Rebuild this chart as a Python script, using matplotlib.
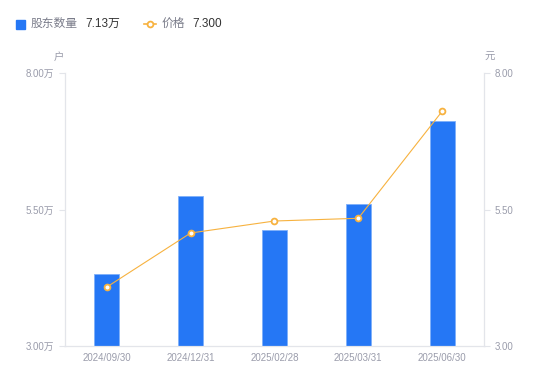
import matplotlib
matplotlib.use("Agg")
import matplotlib.pyplot as plt

plt.rcParams["font.family"] = ["Liberation Sans", "Noto Sans CJK SC", "DejaVu Sans"]

dates = ["2024/09/30", "2024/12/31", "2025/02/28", "2025/03/31", "2025/06/30"]
holders = [4.32, 5.75, 5.12, 5.60, 7.13]   # 万户
price = [4.08, 5.07, 5.29, 5.34, 7.30]     # 元
yticks = [3.0, 5.5, 8.0]

BLUE, ORANGE, GRID, LABEL = "#2577f5", "#f7b23f", "#e3e5ea", "#9a9cab"

fig = plt.figure(figsize=(5.5, 3.81), dpi=100)
ax = fig.add_axes([0.118, 0.092, 0.762, 0.716])
ax2 = ax.twinx()

x = range(len(dates))
ax.bar(x, [h - 3.0 for h in holders], bottom=3.0, width=0.3, color=BLUE,
       edgecolor="#7fb0fa", linewidth=0.6, zorder=2)
ax2.plot(x, price, "-o", color=ORANGE, lw=0.8, ms=4.2, mfc="white",
         mec=ORANGE, mew=1.3, zorder=3)

ax.set_xlim(-0.5, len(dates) - 0.5)
ax.set_ylim(3.0, 8.0)
ax2.set_ylim(3.0, 8.0)
ax.set_xticks(list(x))
ax.set_xticklabels(dates)
ax.set_yticks(yticks)
ax.set_yticklabels([f"{v:.2f}万" for v in yticks])
ax2.set_yticks(yticks)
ax2.set_yticklabels([f"{v:.2f}" for v in yticks])

for a in (ax, ax2):
    for s in a.spines.values():
        s.set_color(GRID)
    a.spines["top"].set_visible(False)
    a.tick_params(colors=GRID, labelcolor=LABEL, labelsize=7, length=4, width=0.8)
ax.tick_params(axis="x", length=0, pad=5)

fig.text(59 / 550, 1 - 57 / 381, "户", color=LABEL, fontsize=7.5, ha="center", va="center")
fig.text(490 / 550, 1 - 57 / 381, "元", color=LABEL, fontsize=7.5, ha="center", va="center")

# legend (drawn by hand to match the inline value style)
ly = 1 - 24 / 381
fig.patches.append(plt.Rectangle((16 / 550, ly - 4.5 / 381), 9 / 550, 9 / 381,
                                 transform=fig.transFigure, color=BLUE))
fig.text(31 / 550, ly, "股东数量", color="#7a7c8a", fontsize=8.5, va="center")
fig.text(85 / 550, ly, f"{holders[-1]:.2f}万", color="#333333", fontsize=8.5, va="center")
fig.add_artist(plt.Line2D([144 / 550, 156 / 550], [ly, ly], color=ORANGE, lw=1.2))
fig.add_artist(plt.Line2D([150 / 550], [ly], color=ORANGE, marker="o", ms=4.2,
                          mfc="white", mew=1.3))
fig.text(162 / 550, ly, "价格", color="#7a7c8a", fontsize=8.5, va="center")
fig.text(192 / 550, ly, f"{price[-1]:.3f}", color="#333333", fontsize=8.5, va="center")

fig.savefig("out.png", dpi=100)
